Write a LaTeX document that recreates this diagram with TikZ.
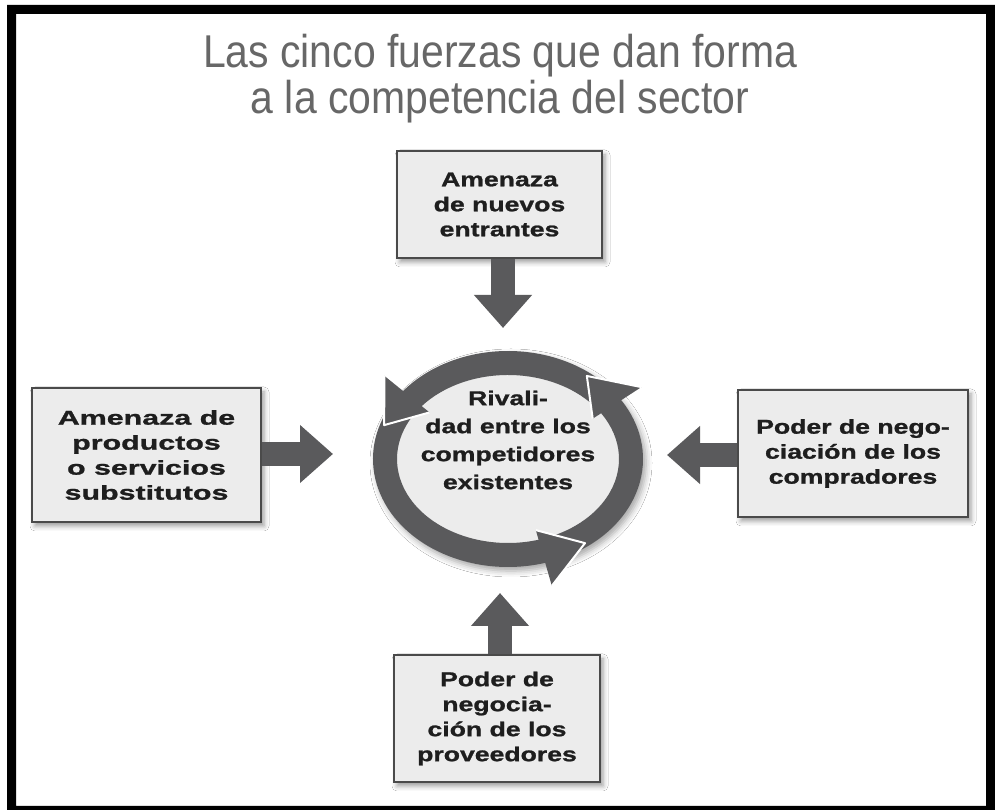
\documentclass[tikz,border=0pt]{standalone}
\usepackage{fontspec}
\setmainfont{Liberation Sans}
\newfontfamily\titlefont[FakeStretch=0.89]{Liberation Sans}
\newfontfamily\boxfont[FakeStretch=1.33,FakeBold=1.2]{Liberation Sans}
\newfontfamily\boxfontw[FakeStretch=1.52,FakeBold=1.2]{Liberation Sans}
\usetikzlibrary{arrows.meta,shapes.geometric,shadows.blur,calc}
\definecolor{ringcol}{HTML}{5A5A5C}
\definecolor{boxfill}{HTML}{ECECEC}
\definecolor{boxline}{HTML}{4A4A4A}
\definecolor{titlecol}{HTML}{676767}
\definecolor{txtcol}{HTML}{1E1E1E}
\begin{document}
\begin{tikzpicture}[x=1pt,y=1pt,
  forcebox/.style={draw=boxline, line width=1.6pt, fill=boxfill, text=txtcol, align=center, inner sep=0pt,
    font=\boxfont\bfseries\fontsize{20}{25}\selectfont,
    blur shadow={shadow xshift=3pt, shadow yshift=-4pt, shadow blur radius=5pt, shadow opacity=40}},
  bigarrow/.style={draw=ringcol, line width=24pt, -{Triangle[width=56pt,length=33pt]}},
  titletext/.style={font=\titlefont\fontsize{46}{46}\selectfont, text=titlecol, anchor=base, inner sep=0pt}
]
\useasboundingbox (0,0) rectangle (995,810);
\fill[white] (0,0) rectangle (995,810);
\fill[black, even odd rule] (7,0) rectangle (995,805) (16,4) rectangle (986,796);

% title
\node[titletext] (title1) at (500,742) {Las cinco fuerzas que dan forma};
\node[titletext] (title2) at (500,696) {a la competencia del sector};

% boxes
\node[forcebox, minimum width=205pt, minimum height=107pt] (T) at (499.5,605.5) {Amenaza\\de nuevos\\entrantes};
\node[forcebox, font=\boxfontw\bfseries\fontsize{20}{25}\selectfont, minimum width=229pt, minimum height=134pt] (L) at (146.5,355) {Amenaza de\\productos\\o servicios\\substitutos};
\node[forcebox, minimum width=230pt, minimum height=127pt] (R) at (853,356.5) {Poder de nego-\\ciación de los\\compradores};
\node[forcebox, minimum width=206pt, minimum height=127pt] (B) at (497,91.5) {Poder de\\negocia-\\ción de los\\proveedores};

% ring
\coordinate (C) at (508,351);
\path[blur shadow={shadow xshift=3pt, shadow yshift=-4pt, shadow blur radius=6pt, shadow opacity=35}] (C) ellipse [x radius=135, y radius=108];
\fill[boxfill] (C) ellipse [x radius=112, y radius=85];
\foreach \s/\b in {-72/33, 35/141, 143/286}{
  \fill[ringcol] ($(C)+(\s:135 and 108)$) arc[start angle=\s, end angle=\b, x radius=135, y radius=108]
    -- ($(C)+(\b:159 and 132)$) -- ($(C)+({\b+20}:131 and 104)$) -- ($(C)+(\b:101 and 74)$)
    -- ($(C)+(\b:111 and 84)$) arc[start angle=\b, end angle=\s, x radius=111, y radius=84] -- cycle;
}
\foreach \b in {33, 141, 286}{
  \draw[white, line width=2pt, line join=round] ($(C)+(\b:159 and 132)$) -- ($(C)+({\b+20}:131 and 104)$) -- ($(C)+(\b:101 and 74)$);
}
\node[ellipse, minimum width=270pt, minimum height=216pt, inner sep=0pt] (riv) at (C) {};
\node[font=\boxfont\bfseries\fontsize{20}{28}\selectfont, text=txtcol, align=center, inner sep=0pt] (rivtxt) at (508,370) {Rivali-\\dad entre los\\competidores\\existentes};

% force arrows
\coordinate (tT) at (503,482);
\coordinate (tB) at (500,217);
\coordinate (tL) at (333,356);
\coordinate (tR) at (667,355);
\draw[bigarrow] (T.south -| tT) -- (tT);
\draw[bigarrow] (B.north -| tB) -- (tB);
\draw[bigarrow] (L.east |- tL) -- (tL);
\draw[bigarrow] (R.west |- tR) -- (tR);
\end{tikzpicture}
\end{document}
